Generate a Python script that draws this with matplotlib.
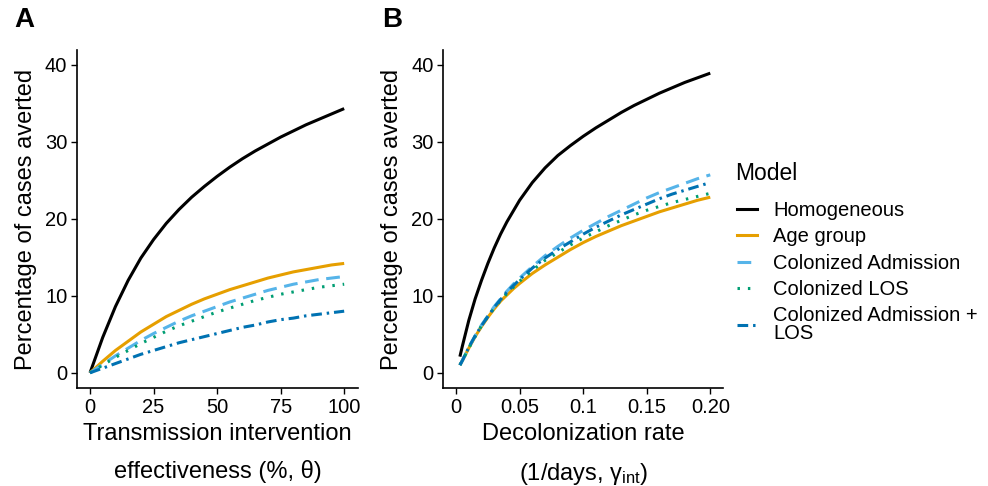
import matplotlib
matplotlib.use("Agg")
import matplotlib.pyplot as plt
from matplotlib.lines import Line2D

plt.rcParams['font.family'] = ['Liberation Sans', 'DejaVu Sans']
plt.rcParams['mathtext.default'] = 'regular'

# panel A: transmission intervention effectiveness (%)
theta = [0, 5, 10, 15, 20, 25, 30, 35, 40, 45, 50, 55, 60, 65, 70, 75, 80, 85, 90, 95, 100]
a_homog = [0, 4.6, 8.6, 12.0, 14.9, 17.3, 19.4, 21.2, 22.8, 24.2, 25.5, 26.7, 27.8, 28.8,
           29.7, 30.6, 31.4, 32.2, 32.9, 33.6, 34.3]
a_age = [0, 1.5, 2.9, 4.1, 5.3, 6.3, 7.3, 8.1, 8.9, 9.6, 10.2, 10.8, 11.3, 11.8, 12.3,
         12.7, 13.1, 13.4, 13.7, 14.0, 14.2]
a_col_adm = [0, 1.1, 2.2, 3.2, 4.2, 5.1, 5.9, 6.7, 7.4, 8.0, 8.6, 9.2, 9.7, 10.2, 10.7,
             11.1, 11.5, 11.8, 12.1, 12.3, 12.5]
a_col_los = [0, 1.0, 2.0, 2.9, 3.8, 4.6, 5.4, 6.1, 6.7, 7.3, 7.9, 8.4, 8.9, 9.4, 9.8,
             10.2, 10.5, 10.8, 11.1, 11.3, 11.5]
a_col_both = [0, 0.6, 1.2, 1.8, 2.4, 2.9, 3.4, 3.9, 4.3, 4.7, 5.1, 5.5, 5.9, 6.2, 6.6,
              6.9, 7.1, 7.4, 7.6, 7.8, 8.0]

# panel B: decolonization rate (1/days)
gamma = [0.003, 0.005, 0.01, 0.015, 0.02, 0.025, 0.03, 0.035, 0.04, 0.045, 0.05, 0.06, 0.07,
         0.08, 0.09, 0.1, 0.11, 0.12, 0.13, 0.14, 0.15, 0.16, 0.17, 0.18, 0.19, 0.2]
b_homog = [2.1, 3.5, 6.8, 9.6, 12.0, 14.2, 16.2, 18.0, 19.6, 21.0, 22.4, 24.7, 26.6, 28.2,
           29.5, 30.7, 31.8, 32.8, 33.8, 34.7, 35.5, 36.3, 37.0, 37.7, 38.3, 38.9]
b_age = [1.0, 1.6, 3.2, 4.7, 6.0, 7.2, 8.3, 9.3, 10.1, 10.9, 11.6, 12.9, 14.0, 15.0, 16.0,
         16.9, 17.7, 18.4, 19.1, 19.7, 20.3, 20.9, 21.4, 21.9, 22.4, 22.8]
b_col_adm = [1.0, 1.6, 3.3, 4.8, 6.2, 7.4, 8.6, 9.6, 10.6, 11.5, 12.3, 13.8, 15.2, 16.4,
             17.5, 18.5, 19.4, 20.3, 21.1, 21.9, 22.7, 23.4, 24.0, 24.6, 25.2, 25.7]
b_col_los = [1.0, 1.6, 3.2, 4.7, 6.1, 7.3, 8.4, 9.4, 10.3, 11.1, 11.9, 13.3, 14.6, 15.6,
             16.6, 17.5, 18.3, 19.1, 19.8, 20.5, 21.1, 21.6, 22.1, 22.5, 22.9, 23.3]
b_col_both = [1.0, 1.6, 3.3, 4.8, 6.1, 7.3, 8.5, 9.5, 10.5, 11.3, 12.1, 13.6, 14.9, 16.0,
              17.0, 18.0, 18.9, 19.7, 20.5, 21.2, 21.9, 22.6, 23.2, 23.7, 24.2, 24.7]

labels = ["Homogeneous", "Age group", "Colonized Admission", "Colonized LOS",
          "Colonized Admission +\nLOS"]
colors = ["black", "#E69F00", "#56B4E9", "#009E73", "#0072B2"]
dashes = [None, None, (4.5, 2.5), (0.8, 2.6), (3.5, 1.6, 0.8, 1.6)]
lw = 2.2

fig = plt.figure(figsize=(9.88, 4.86), dpi=100)
axA = fig.add_axes([0.078, 0.202, 0.2845, 0.695])
axB = fig.add_axes([0.4485, 0.202, 0.2835, 0.695])


def draw(ax, x, series):
    for y, c, d in zip(series, colors, dashes):
        ln, = ax.plot(x, y, color=c, lw=lw, solid_capstyle='butt')
        if d is not None:
            ln.set_dashes(d)
            ln.set_dash_capstyle('butt')
    ax.set_ylim(-1.95, 41.9)
    ax.set_yticks([0, 10, 20, 30, 40])
    for s in ['top', 'right']:
        ax.spines[s].set_visible(False)
    for s in ['left', 'bottom']:
        ax.spines[s].set_linewidth(1.2)
    ax.tick_params(labelsize=14.5, length=4, width=1, colors='black', pad=3)
    ax.set_ylabel("Percentage of cases averted", fontsize=17, labelpad=6)


draw(axA, theta, [a_homog, a_age, a_col_adm, a_col_los, a_col_both])
axA.set_xlim(-5.1, 105.5)
axA.set_xticks([0, 25, 50, 75, 100])
axA.set_xlabel("Transmission intervention\neffectiveness (%, θ)", fontsize=17,
               linespacing=1.8, labelpad=5)

draw(axB, gamma, [b_homog, b_age, b_col_adm, b_col_los, b_col_both])
axB.set_xlim(-0.0102, 0.2102)
axB.set_xticks([0, 0.05, 0.1, 0.15, 0.2])
axB.set_xticklabels(["0", "0.05", "0.1", "0.15", "0.20"])
axB.set_xlabel("Decolonization rate\n(1/days, γ$_{int}$)", fontsize=17,
               linespacing=1.8, labelpad=5)

fig.text(0.014, 0.959, "A", fontsize=20, fontweight='bold', va='center', ha='left')
fig.text(0.3866, 0.959, "B", fontsize=20, fontweight='bold', va='center', ha='left')

fig.text(0.744, 1 - 173 / 486, "Model", fontsize=16.5, va='center', ha='left')
handles = []
for c, d in zip(colors, dashes):
    h = Line2D([], [], color=c, lw=lw)
    if d is not None:
        h.set_dashes(d)
    handles.append(h)
leg = fig.legend(handles, labels, loc='upper left', bbox_to_anchor=(0.746, 0.586),
                 frameon=False, fontsize=14.5, handlelength=1.0, handletextpad=0.8,
                 labelspacing=0.36, borderpad=0, borderaxespad=0)
leg.get_texts()[4].set_linespacing(0.95)

fig.savefig("out.png", dpi=100)
